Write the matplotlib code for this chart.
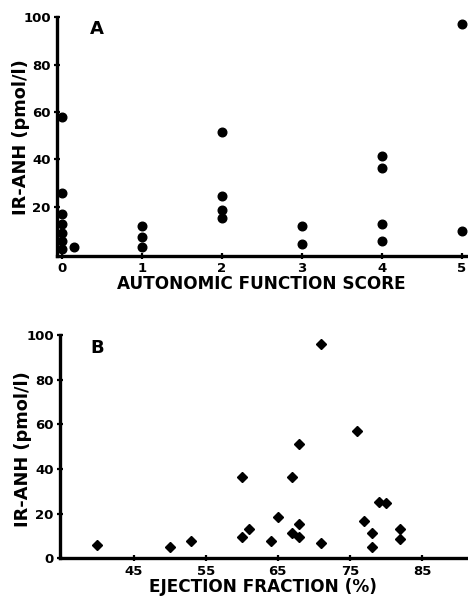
import matplotlib
matplotlib.use("Agg")
import matplotlib.pyplot as plt

# Panel A: autonomic function score vs IR-ANH
score_x = [0, 0, 0, 0, 0, 0, 0, 0.15,
           1, 1, 1,
           2, 2, 2, 2,
           3, 3,
           4, 4, 4, 4,
           5, 5]
score_y = [58, 25.6, 16.9, 12.7, 9.0, 5.6, 2.0, 3.1,
           11.8, 7.3, 2.8,
           51.7, 24.6, 18.6, 15.1,
           11.8, 4.2,
           41.5, 36.5, 12.8, 5.4,
           97.3, 9.9]

# Panel B: ejection fraction vs IR-ANH
ef_x = [40, 50, 53, 60, 60, 61, 64, 65, 67, 67, 68, 68, 68,
        71, 71, 76, 77, 78, 78, 79, 80, 82, 82]
ef_y = [6.0, 5.2, 7.6, 36.6, 9.7, 13.0, 7.6, 18.6, 36.6, 11.5, 51.2, 15.4, 9.4,
        95.8, 7.0, 56.9, 16.6, 11.5, 4.9, 25.2, 24.6, 13.0, 8.8]

a_xticks = [0, 1, 2, 3, 4, 5]
a_yticks = [20, 40, 60, 80, 100]
b_xticks = [45, 55, 65, 75, 85]
b_yticks = [0, 20, 40, 60, 80, 100]

plt.rcParams['font.family'] = ['DejaVu Sans']
plt.rcParams['font.weight'] = 'bold'

W, H = 468, 602
fig = plt.figure(figsize=(W / 100, H / 100), dpi=100)


def px_axes(left, right, top, bottom):
    return fig.add_axes([left / W, 1 - bottom / H, (right - left) / W, (bottom - top) / H])


def style(ax):
    for s in ['top', 'right']:
        ax.spines[s].set_visible(False)
    for s in ['left', 'bottom']:
        ax.spines[s].set_linewidth(2.4)
        ax.spines[s].set_color('black')
    ax.tick_params(axis='both', direction='inout', length=5, width=1.6,
                   labelsize=9.5, pad=2)
    for lab in ax.get_xticklabels() + ax.get_yticklabels():
        lab.set_fontweight('bold')


# Panel A
axA = px_axes(57, 466, 17.3, 256)
axA.plot(score_x, score_y, linestyle='none', marker='o', markersize=6.2,
         color='black', clip_on=False)
axA.set_xlim(-0.06, 5.05)
axA.set_ylim(-0.8, 100)
axA.set_xticks(a_xticks)
axA.set_yticks(a_yticks)
style(axA)
axA.set_xlabel('AUTONOMIC FUNCTION SCORE', fontsize=12.2, fontweight='bold', labelpad=0)
axA.set_ylabel('IR-ANH (pmol/l)', fontsize=12.8, fontweight='bold', va='center')
axA.yaxis.set_label_coords(-0.088, 0.5)
fig.text(97 / W, 1 - 29 / H, 'A', fontsize=13, fontweight='bold', ha='center', va='center')

# Panel B
axB = px_axes(60, 466, 335, 558.3)
axB.plot(ef_x, ef_y, linestyle='none', marker='D', markersize=5.2,
         color='black', clip_on=False)
axB.set_xlim(34.8, 91.1)
axB.set_ylim(0, 100)
axB.set_xticks(b_xticks)
axB.set_yticks(b_yticks)
style(axB)
axB.set_xlabel('EJECTION FRACTION (%)', fontsize=12.2, fontweight='bold', labelpad=0)
axB.set_ylabel('IR-ANH (pmol/l)', fontsize=12.8, fontweight='bold', va='center')
axB.yaxis.set_label_coords(-0.091, 0.49)
fig.text(97 / W, 1 - 348 / H, 'B', fontsize=13, fontweight='bold', ha='center', va='center')

fig.savefig('out.png', dpi=100)
